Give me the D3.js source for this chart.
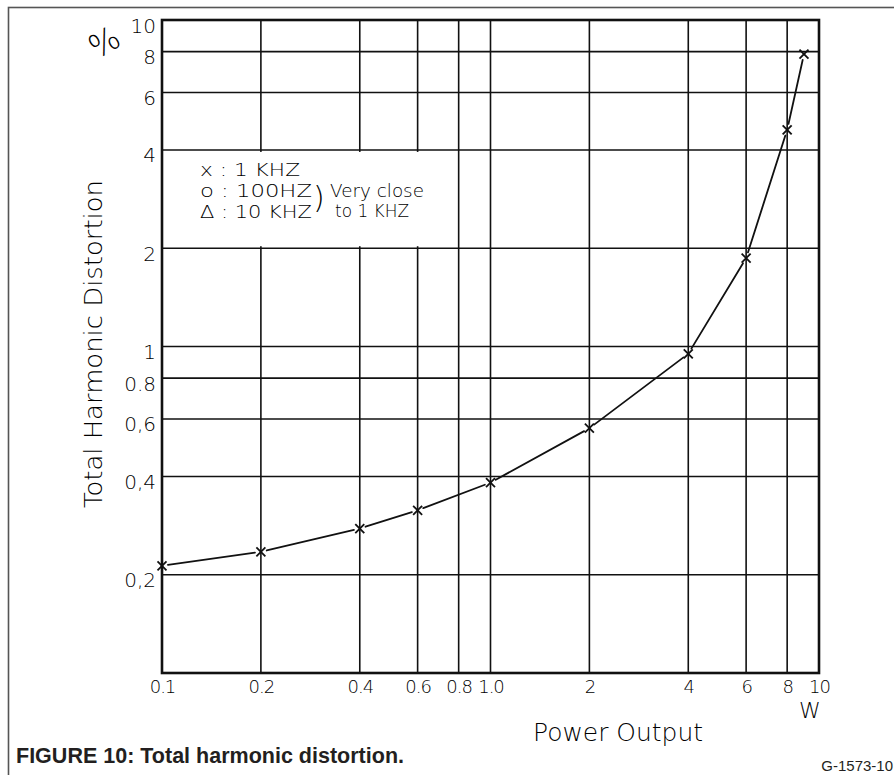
<!DOCTYPE html>
<html>
<head>
<meta charset="utf-8">
<script src="https://cdn.jsdelivr.net/npm/d3@7"></script>
<style>
  html, body { margin: 0; padding: 0; background: #fff; }
  svg { display: block; }
  .hand { font-family: "DejaVu Sans", "Open Sans", sans-serif; font-weight: 200; fill: #000; }
</style>
</head>
<body>
<svg id="chart" width="894" height="775"></svg>
<script>
// ---- data ----
const powerW   = [0.1, 0.2, 0.4, 0.6, 1.0, 2, 4, 6, 8, 9];
const thdPct   = [0.213, 0.235, 0.277, 0.315, 0.383, 0.562, 0.95, 1.865, 4.61, 7.86];
const xGrid    = [0.2, 0.4, 0.6, 0.8, 1, 2, 4, 6, 8];
const yGrid    = [0.2, 0.4, 0.6, 0.8, 1, 2, 4, 6, 8];
const xTickVals   = [0.1, 0.2, 0.4, 0.6, 0.8, 1, 2, 4, 6, 8, 10];
const xTickLabels = ["0.1", "0.2", "0.4", "0.6", "0.8", "1.0", "2", "4", "6", "8", "10"];
const yTickVals   = [10, 8, 6, 4, 2, 1, 0.8, 0.6, 0.4, 0.2];
const yTickLabels = ["10", "8", "6", "4", "2", "1", "0.8", "0,6", "0,4", "0,2"];
const legendLines = ["x : 1 KHZ", "o : 100HZ", "\u0394 : 10 KHZ"];
const legendNote  = ["Very close", "to 1 KHZ"];

(function () {
const svg = d3.select("#chart");
const pL = 162, pR = 819, pT = 20, pB = 673;

const x = d3.scaleLog().domain([0.1, 10]).range([pL, pR]);
const y = d3.scaleLog().domain([0.1, 10]).range([pB, pT]);

// outer figure frame
svg.append("rect").attr("x", 8.5).attr("y", 7.5).attr("width", 900).attr("height", 800)
  .attr("fill", "none").attr("stroke", "#555").attr("stroke-width", 1.6);

// grid lines
const g = svg.append("g");
g.selectAll("line.vg").data(xGrid).join("line")
  .attr("x1", d => x(d)).attr("x2", d => x(d))
  .attr("y1", pT).attr("y2", pB)
  .attr("stroke", "#111").attr("stroke-width", 1.6);
g.selectAll("line.hg").data(yGrid).join("line")
  .attr("x1", pL).attr("x2", pR)
  .attr("y1", d => y(d)).attr("y2", d => y(d))
  .attr("stroke", "#111").attr("stroke-width", 1.6);

// legend white box (covers grid)
svg.append("rect")
  .attr("x", pL + 2).attr("y", y(4) + 2)
  .attr("width", 440 - pL).attr("height", y(2) - y(4) - 4)
  .attr("fill", "#fff");

// plot frame
svg.append("rect").attr("x", pL).attr("y", pT)
  .attr("width", pR - pL).attr("height", pB - pT)
  .attr("fill", "none").attr("stroke", "#111").attr("stroke-width", 2.6);

// axes tick labels
const xAxis = d3.axisBottom(x).tickValues(xTickVals)
  .tickFormat((d, i) => xTickLabels[i]).tickSize(0).tickPadding(9);
const xa = svg.append("g").attr("transform", `translate(0,${pB})`).call(xAxis);
xa.select(".domain").remove();
xa.attr("font-family", null).attr("font-size", null);
xa.selectAll("text").attr("class", "hand").attr("font-size", 18)
  .attr("letter-spacing", -1).attr("dy", "0.6em");

const yAxis = d3.axisLeft(y).tickValues(yTickVals)
  .tickFormat((d, i) => yTickLabels[i]).tickSize(0).tickPadding(6);
const ya = svg.append("g").attr("transform", `translate(${pL},0)`).call(yAxis);
ya.select(".domain").remove();
ya.attr("font-family", null).attr("font-size", null);
ya.selectAll("text").attr("class", "hand").attr("font-size", 20).attr("dy", "0.6em");

// unit labels
svg.append("text").attr("class", "hand").attr("x", x(10) - 9).attr("y", 718)
  .attr("text-anchor", "middle").attr("font-size", 22).text("W");
svg.append("text").attr("class", "hand")
  .attr("transform", "translate(110,52) rotate(-30)")
  .attr("text-anchor", "middle").attr("font-size", 32).text("%");

// axis titles
svg.append("text").attr("class", "hand").attr("x", 533).attr("y", 741)
  .attr("font-size", 25).attr("textLength", 170).attr("lengthAdjust", "spacingAndGlyphs")
  .text("Power Output");
svg.append("text").attr("class", "hand")
  .attr("transform", "translate(102,508) rotate(-90)")
  .attr("font-size", 24).attr("textLength", 328).attr("lengthAdjust", "spacingAndGlyphs")
  .text("Total Harmonic Distortion");

// legend text
const legW = [100, 112, 112];
svg.selectAll("text.leg").data(legendLines).join("text")
  .attr("class", "hand").attr("x", 200).attr("y", (d, i) => 176 + i * 21)
  .attr("font-size", 18).attr("textLength", (d, i) => legW[i]).attr("lengthAdjust", "spacingAndGlyphs")
  .text(d => d);
svg.append("text").attr("class", "hand").attr("x", 313).attr("y", 208)
  .attr("font-size", 30).text(")");
const noteW = [94, 74];
svg.selectAll("text.note").data(legendNote).join("text")
  .attr("class", "hand").attr("x", (d, i) => 330 + i * 5).attr("y", (d, i) => 197 + i * 20)
  .attr("font-size", 18).attr("textLength", (d, i) => noteW[i]).attr("lengthAdjust", "spacingAndGlyphs")
  .text(d => d);

// curve: segments with small gaps at markers
const pts = powerW.map((p, i) => [x(p), y(thdPct[i])]);
const gap = 6;
const segs = d3.pairs(pts).map(([a, b]) => {
  const dx = b[0] - a[0], dy = b[1] - a[1], L = Math.hypot(dx, dy);
  const ux = dx / L, uy = dy / L;
  return [a[0] + ux * gap, a[1] + uy * gap, b[0] - ux * gap, b[1] - uy * gap];
});
svg.selectAll("line.seg").data(segs).join("line")
  .attr("x1", d => d[0]).attr("y1", d => d[1]).attr("x2", d => d[2]).attr("y2", d => d[3])
  .attr("stroke", "#111").attr("stroke-width", 1.8).attr("stroke-linecap", "round");

// markers (x)
const m = 4.5;
const mk = svg.selectAll("g.mk").data(pts).join("g")
  .attr("transform", d => `translate(${d[0]},${d[1]})`);
mk.append("line").attr("x1", -m).attr("y1", -m).attr("x2", m).attr("y2", m)
  .attr("stroke", "#111").attr("stroke-width", 1.8);
mk.append("line").attr("x1", -m).attr("y1", m).attr("x2", m).attr("y2", -m)
  .attr("stroke", "#111").attr("stroke-width", 1.8);

// caption
svg.append("text").attr("x", 16).attr("y", 763)
  .attr("font-family", "'Liberation Sans Narrow', 'Liberation Sans', Arial, sans-serif")
  .attr("font-weight", "bold").attr("font-size", 22).attr("fill", "#231f20")
  .attr("textLength", 388).attr("lengthAdjust", "spacingAndGlyphs")
  .text("FIGURE 10: Total harmonic distortion.");
svg.append("text").attr("x", 893).attr("y", 771).attr("text-anchor", "end")
  .attr("font-family", "'Liberation Sans', Arial, sans-serif")
  .attr("font-size", 15).attr("fill", "#231f20")
  .text("G-1573-10");
})();
</script>
</body>
</html>
